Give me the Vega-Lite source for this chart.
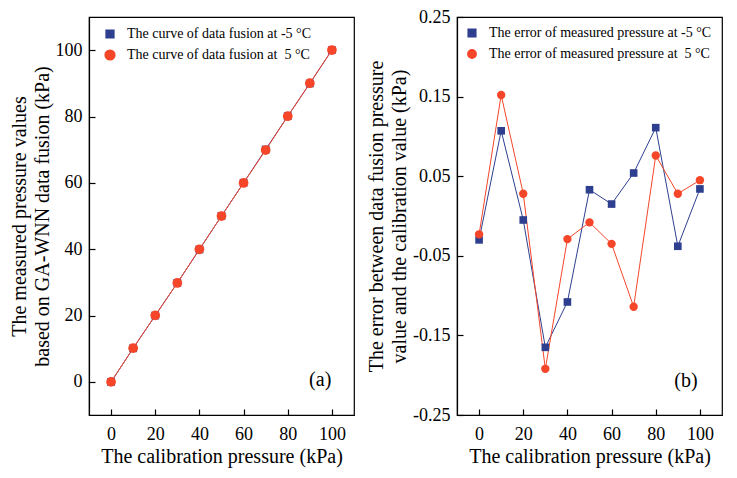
{
  "$schema": "https://vega.github.io/schema/vega-lite/v6.json",
  "padding": {"left": 8, "top": 7, "right": 6, "bottom": 4},
  "spacing": 10,
  "datasets": {
    "a": [
      {"x": 0, "v": -0.03, "s": "The curve of data fusion at -5 °C"},
      {"x": 10, "v": 10.107, "s": "The curve of data fusion at -5 °C"},
      {"x": 20, "v": 19.995, "s": "The curve of data fusion at -5 °C"},
      {"x": 30, "v": 29.835, "s": "The curve of data fusion at -5 °C"},
      {"x": 40, "v": 39.892, "s": "The curve of data fusion at -5 °C"},
      {"x": 50, "v": 50.033, "s": "The curve of data fusion at -5 °C"},
      {"x": 60, "v": 60.015, "s": "The curve of data fusion at -5 °C"},
      {"x": 70, "v": 70.054, "s": "The curve of data fusion at -5 °C"},
      {"x": 80, "v": 80.111, "s": "The curve of data fusion at -5 °C"},
      {"x": 90, "v": 89.962, "s": "The curve of data fusion at -5 °C"},
      {"x": 100, "v": 100.034, "s": "The curve of data fusion at -5 °C"},
      {"x": 0, "v": -0.023, "s": "The curve of data fusion at \u00a05 °C"},
      {"x": 10, "v": 10.152, "s": "The curve of data fusion at \u00a05 °C"},
      {"x": 20, "v": 20.028, "s": "The curve of data fusion at \u00a05 °C"},
      {"x": 30, "v": 29.808, "s": "The curve of data fusion at \u00a05 °C"},
      {"x": 40, "v": 39.971, "s": "The curve of data fusion at \u00a05 °C"},
      {"x": 50, "v": 49.992, "s": "The curve of data fusion at \u00a05 °C"},
      {"x": 60, "v": 59.965, "s": "The curve of data fusion at \u00a05 °C"},
      {"x": 70, "v": 69.886, "s": "The curve of data fusion at \u00a05 °C"},
      {"x": 80, "v": 80.076, "s": "The curve of data fusion at \u00a05 °C"},
      {"x": 90, "v": 90.028, "s": "The curve of data fusion at \u00a05 °C"},
      {"x": 100, "v": 100.045, "s": "The curve of data fusion at \u00a05 °C"}
    ],
    "b": [
      {"x": 0, "v": -0.030, "s": "The error of measured pressure at -5 °C"},
      {"x": 10, "v": 0.107, "s": "The error of measured pressure at -5 °C"},
      {"x": 20, "v": -0.005, "s": "The error of measured pressure at -5 °C"},
      {"x": 30, "v": -0.165, "s": "The error of measured pressure at -5 °C"},
      {"x": 40, "v": -0.108, "s": "The error of measured pressure at -5 °C"},
      {"x": 50, "v": 0.033, "s": "The error of measured pressure at -5 °C"},
      {"x": 60, "v": 0.015, "s": "The error of measured pressure at -5 °C"},
      {"x": 70, "v": 0.054, "s": "The error of measured pressure at -5 °C"},
      {"x": 80, "v": 0.111, "s": "The error of measured pressure at -5 °C"},
      {"x": 90, "v": -0.038, "s": "The error of measured pressure at -5 °C"},
      {"x": 100, "v": 0.034, "s": "The error of measured pressure at -5 °C"},
      {"x": 0, "v": -0.023, "s": "The error of measured pressure at \u00a05 °C"},
      {"x": 10, "v": 0.152, "s": "The error of measured pressure at \u00a05 °C"},
      {"x": 20, "v": 0.028, "s": "The error of measured pressure at \u00a05 °C"},
      {"x": 30, "v": -0.192, "s": "The error of measured pressure at \u00a05 °C"},
      {"x": 40, "v": -0.029, "s": "The error of measured pressure at \u00a05 °C"},
      {"x": 50, "v": -0.008, "s": "The error of measured pressure at \u00a05 °C"},
      {"x": 60, "v": -0.035, "s": "The error of measured pressure at \u00a05 °C"},
      {"x": 70, "v": -0.114, "s": "The error of measured pressure at \u00a05 °C"},
      {"x": 80, "v": 0.076, "s": "The error of measured pressure at \u00a05 °C"},
      {"x": 90, "v": 0.028, "s": "The error of measured pressure at \u00a05 °C"},
      {"x": 100, "v": 0.045, "s": "The error of measured pressure at \u00a05 °C"}
    ],
    "la": [{"x": 94.7, "v": 0.5, "t": "(a)"}],
    "lb": [{"x": 93.7, "v": -0.207, "t": "(b)"}]
  },
  "resolve": {"scale": {"color": "independent", "shape": "independent", "size": "independent", "x": "independent", "y": "independent"}},
  "hconcat": [
    {
      "width": 265,
      "height": 398,
      "layer": [
        {
          "data": {"name": "a"},
          "mark": {"type": "line", "strokeWidth": 1},
          "encoding": {
            "x": {"field": "x", "type": "quantitative", "scale": {"domain": [-10, 110], "nice": false, "zero": false},
              "axis": {"values": [0,10,20,30,40,50,60,70,80,90,100], "labelExpr": "datum.value % 20 === 0 ? datum.label : ''", "grid": false, "tickSize": -6, "tickColor": "black", "tickWidth": 1.2, "domainColor": "black", "domainWidth": 1.2,
                "labelFont": "Liberation Serif", "labelFontSize": 18, "labelColor": "black", "labelPadding": 16,
                "title": "The calibration pressure (kPa)", "titleFont": "Liberation Serif", "titleFontSize": 20, "titleFontWeight": "normal", "titleColor": "black", "titlePadding": 3}},
            "y": {"field": "v", "type": "quantitative", "scale": {"domain": [-10, 110], "nice": false, "zero": false},
              "axis": {"values": [0,10,20,30,40,50,60,70,80,90,100], "labelExpr": "datum.value % 20 === 0 ? datum.label : ''", "grid": false, "tickSize": -6, "tickColor": "black", "tickWidth": 1.2, "domainColor": "black", "domainWidth": 1.2,
                "labelFont": "Liberation Serif", "labelFontSize": 18, "labelColor": "black", "labelPadding": 13,
                "title": ["The measured pressure values", "based on GA-WNN data fusion (kPa)"], "titleFont": "Liberation Serif", "titleFontSize": 20, "titleFontWeight": "normal", "titleColor": "black", "titleLineHeight": 23, "titlePadding": 3}},
            "color": {"field": "s", "type": "nominal", "scale": {"domain": ["The curve of data fusion at -5 °C", "The curve of data fusion at \u00a05 °C"], "range": ["#2E3F8F", "#F5462A"]}},
            "detail": {"field": "s"}
          }
        },
        {
          "data": {"name": "a"},
          "mark": {"type": "point", "filled": true, "opacity": 1},
          "encoding": {
            "x": {"field": "x", "type": "quantitative"},
            "y": {"field": "v", "type": "quantitative"},
            "color": {"field": "s", "type": "nominal",
              "legend": {"orient": "none", "legendX": 14, "legendY": 10, "title": null, "labelFont": "Liberation Serif", "labelColor": "black", "labelFontSize": 14, "labelOffset": 10, "rowPadding": 6, "labelLimit": 400, "symbolSize": 80}},
            "shape": {"field": "s", "type": "nominal", "scale": {"domain": ["The curve of data fusion at -5 °C", "The curve of data fusion at \u00a05 °C"], "range": ["square", "circle"]}, "legend": null},
            "size": {"field": "s", "type": "nominal", "scale": {"domain": ["The curve of data fusion at -5 °C", "The curve of data fusion at \u00a05 °C"], "range": [60, 95]}, "legend": null}
          }
        },
        {
          "data": {"name": "la"},
          "mark": {"type": "text", "fontSize": 20, "baseline": "middle", "align": "center", "color": "black", "font": "Liberation Serif"},
          "encoding": {
            "x": {"field": "x", "type": "quantitative"},
            "y": {"field": "v", "type": "quantitative"},
            "text": {"field": "t"}
          }
        }
      ]
    },
    {
      "width": 265,
      "height": 398,
      "layer": [
        {
          "data": {"name": "b"},
          "mark": {"type": "line", "strokeWidth": 1},
          "encoding": {
            "x": {"field": "x", "type": "quantitative", "scale": {"domain": [-10, 110], "nice": false, "zero": false},
              "axis": {"values": [0,10,20,30,40,50,60,70,80,90,100], "labelExpr": "datum.value % 20 === 0 ? datum.label : ''", "grid": false, "tickSize": -6, "tickColor": "black", "tickWidth": 1.2, "domainColor": "black", "domainWidth": 1.2,
                "labelFont": "Liberation Serif", "labelFontSize": 18, "labelColor": "black", "labelPadding": 16,
                "title": "The calibration pressure (kPa)", "titleFont": "Liberation Serif", "titleFontSize": 20, "titleFontWeight": "normal", "titleColor": "black", "titlePadding": 3}},
            "y": {"field": "v", "type": "quantitative", "scale": {"domain": [-0.25, 0.25], "nice": false, "zero": false},
              "axis": {"values": [-0.25,-0.225,-0.2,-0.175,-0.15,-0.125,-0.1,-0.075,-0.05,-0.025,0,0.025,0.05,0.075,0.1,0.125,0.15,0.175,0.2,0.225,0.25],
                "labelExpr": "abs(round(datum.value*1000)) % 50 === 0 ? replace(format(datum.value, '.2f'), '−', '-') : ''",
                "grid": false, "tickSize": -6, "tickColor": "black", "tickWidth": 1.2, "domainColor": "black", "domainWidth": 1.2,
                "labelFont": "Liberation Serif", "labelFontSize": 18, "labelColor": "black", "labelPadding": 13, "labelOverlap": false,
                "title": ["The error between data fusion pressure", "value and the calibration value (kPa)"], "titleFont": "Liberation Serif", "titleFontSize": 20, "titleFontWeight": "normal", "titleColor": "black", "titleLineHeight": 23, "titlePadding": 3}},
            "color": {"field": "s", "type": "nominal", "scale": {"domain": ["The error of measured pressure at -5 °C", "The error of measured pressure at \u00a05 °C"], "range": ["#2E3F8F", "#F5462A"]}},
            "detail": {"field": "s"}
          }
        },
        {
          "data": {"name": "b"},
          "mark": {"type": "point", "filled": true, "opacity": 1},
          "encoding": {
            "x": {"field": "x", "type": "quantitative"},
            "y": {"field": "v", "type": "quantitative"},
            "color": {"field": "s", "type": "nominal",
              "legend": {"orient": "none", "legendX": 8, "legendY": 9, "title": null, "labelFont": "Liberation Serif", "labelColor": "black", "labelFontSize": 14, "labelOffset": 10, "rowPadding": 6, "labelLimit": 400, "symbolSize": 70}},
            "shape": {"field": "s", "type": "nominal", "scale": {"domain": ["The error of measured pressure at -5 °C", "The error of measured pressure at \u00a05 °C"], "range": ["square", "circle"]}, "legend": null},
            "size": {"field": "s", "type": "nominal", "scale": {"domain": ["The error of measured pressure at -5 °C", "The error of measured pressure at \u00a05 °C"], "range": [58, 70]}, "legend": null}
          }
        },
        {
          "data": {"name": "lb"},
          "mark": {"type": "text", "fontSize": 20, "baseline": "middle", "align": "center", "color": "black", "font": "Liberation Serif"},
          "encoding": {
            "x": {"field": "x", "type": "quantitative"},
            "y": {"field": "v", "type": "quantitative"},
            "text": {"field": "t"}
          }
        }
      ]
    }
  ],
  "config": {
    "font": "Liberation Serif",
    "view": {"stroke": "black", "strokeWidth": 1.2}
  }
}
